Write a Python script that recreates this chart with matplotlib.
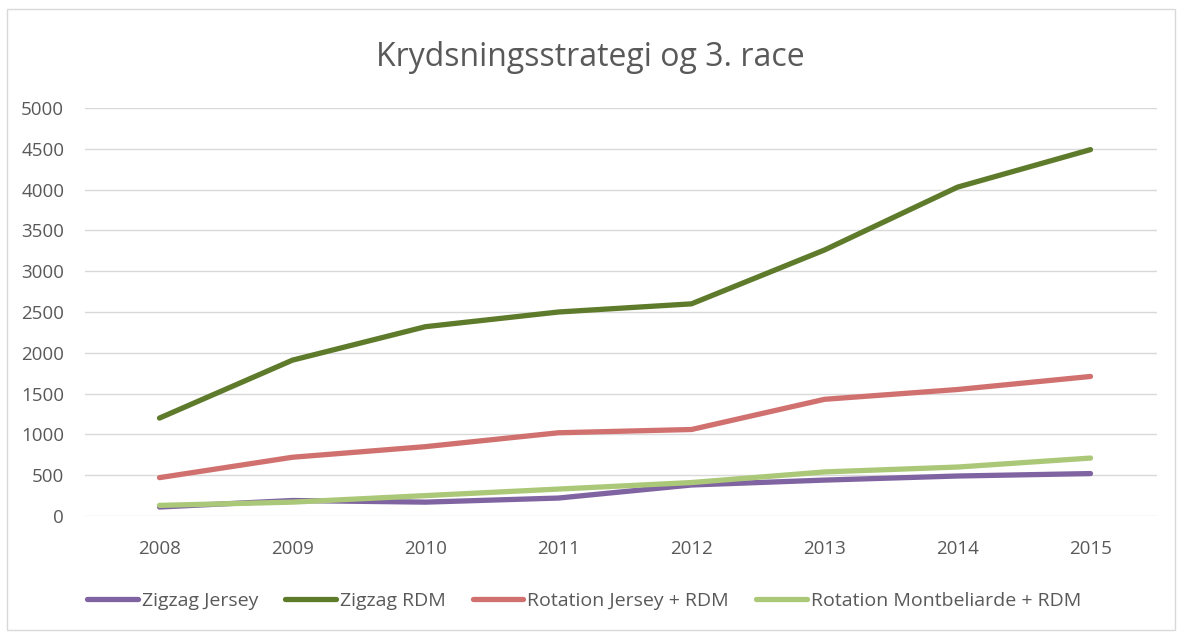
import matplotlib
matplotlib.use("Agg")
import matplotlib.pyplot as plt
from matplotlib.patches import Rectangle

years = ["2008", "2009", "2010", "2011", "2012", "2013", "2014", "2015"]
zigzag_jersey = [110, 190, 170, 220, 380, 440, 490, 520]
zigzag_rdm = [1200, 1910, 2320, 2500, 2600, 3260, 4030, 4490]
rotation_jersey_rdm = [470, 720, 850, 1020, 1060, 1430, 1550, 1710]
rotation_montbeliarde_rdm = [130, 170, 250, 330, 410, 540, 600, 710]

series_names = ["Zigzag Jersey", "Zigzag RDM", "Rotation Jersey + RDM",
                "Rotation Montbeliarde + RDM"]
series_values = [zigzag_jersey, zigzag_rdm, rotation_jersey_rdm,
                 rotation_montbeliarde_rdm]
colors = ["#8064A2", "#5E7A2B", "#D0716F", "#ABC879"]
yticks = [0, 500, 1000, 1500, 2000, 2500, 3000, 3500, 4000, 4500, 5000]

plt.rcParams['font.family'] = ['Open Sans', 'DejaVu Sans']

fig = plt.figure(figsize=(11.8, 6.32), dpi=100)
fig.patches.append(Rectangle((7/1180, 1 - 630/632), 1168/1180, 621/632,
                             transform=fig.transFigure, fill=False,
                             edgecolor="#D9D9D9", linewidth=1.0))

ax = fig.add_axes([85/1180, 1 - 516/632, 1072/1180, 408/632])
x = list(range(len(years)))
for name, vals, c in zip(series_names, series_values, colors):
    ax.plot(x, vals, color=c, linewidth=3.8, solid_capstyle='round',
            solid_joinstyle='round', label=name)

ax.set_xlim(-0.56, len(years) - 1 + 0.5)
ax.set_ylim(0, 5000)
ax.set_yticks(yticks)
ax.set_xticks(x)
ax.set_xticklabels(years)
ax.grid(axis='y', color='#D9D9D9', linewidth=1.0)
ax.set_axisbelow(True)
for s in ax.spines.values():
    s.set_visible(False)
ax.tick_params(axis='both', length=0, labelsize=13.5, colors='#595959')
ax.tick_params(axis='y', pad=15)
ax.tick_params(axis='x', pad=17)

fig.text(0.5, 1 - 57/632, "Krydsningsstrategi og 3. race", ha='center',
         va='center', fontsize=23, color='#595959')

leg = fig.legend(loc='center', bbox_to_anchor=(0.495, 1 - 601/632), ncol=4,
                 frameon=False, fontsize=14, handlelength=2.6,
                 columnspacing=1.4, handletextpad=0.2)
for t in leg.get_texts():
    t.set_color('#595959')

fig.savefig("out.png", dpi=100)
